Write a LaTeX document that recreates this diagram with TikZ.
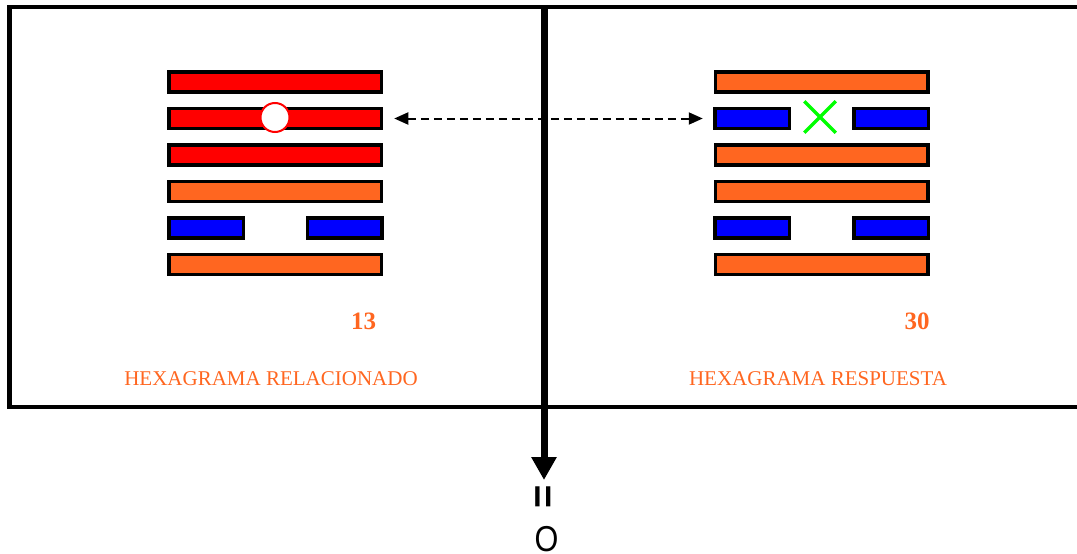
\documentclass[tikz,border=0pt]{standalone}
\usepackage{fontspec}
\setmainfont{Liberation Serif}
\newfontfamily\arialfont{Liberation Sans}
\usetikzlibrary{arrows.meta,shapes.misc}
\definecolor{hxred}{HTML}{FF0000}
\definecolor{hxorange}{HTML}{FF6620}
\definecolor{hxblue}{HTML}{0000FF}
\definecolor{hxgreen}{HTML}{00FF00}
\tikzset{
  bar/.style={draw=black, line width=3.5pt, minimum height=20pt, inner sep=0pt, outer sep=0pt},
  yang/.style={bar, minimum width=212.5pt},
  yin/.style={bar, minimum width=74.5pt, fill=hxblue},
  numlabel/.style={font=\fontsize{25}{25}\selectfont\bfseries, text=hxorange, anchor=base, inner sep=0pt},
  caption/.style={font=\fontsize{21}{21}\selectfont, text=hxorange, anchor=base, inner sep=0pt},
}
\begin{document}
\begin{tikzpicture}[x=1pt,y=-1pt]
\useasboundingbox (0,0) rectangle (1077,554);
% frame
\draw[line width=4.5pt] (1090,7) -- (9.5,7) -- (9.5,407) -- (1090,407);
% left hexagram (13)
\node[yang, fill=hxred] (l1) at (275,82) {};
\node[yang, fill=hxred] (l2) at (275,118.5) {};
\node[yang, fill=hxred] (l3) at (275,155) {};
\node[yang, fill=hxorange] (l4) at (275,191.5) {};
\node[yin] (l5a) at (206,228) {};
\node[yin] (l5b) at (344.5,228) {};
\node[yang, fill=hxorange] (l6) at (275,264.5) {};
\node[circle, draw=hxred, fill=white, line width=2pt, minimum size=29pt, inner sep=0pt] (mark) at (275,117.5) {};
% right hexagram (30)
\node[yang, fill=hxorange] (r1) at (821.5,82) {};
\node[yin] (r2a) at (752,118.5) {};
\node[yin] (r2b) at (891,118.5) {};
\node[yang, fill=hxorange] (r3) at (821.5,155) {};
\node[yang, fill=hxorange] (r4) at (821.5,191.5) {};
\node[yin] (r5a) at (752,228) {};
\node[yin] (r5b) at (891,228) {};
\node[yang, fill=hxorange] (r6) at (821.5,264.5) {};
\node[cross out, draw=hxgreen, line width=3.5pt, minimum size=28pt, inner sep=0pt] (xmark) at (820,117) {};
% dashed link
\draw[line width=2pt, dash pattern=on 8pt off 5pt, {Triangle[length=14pt,width=12pt]}-{Triangle[length=14pt,width=12pt]}, shorten <=13pt, shorten >=12pt] (l2.east) -- (r2a.west);
% labels
\node[numlabel] (n13) at (363.5,329) {13};
\node[numlabel] (n30) at (917,329) {30};
\node[caption] (capl) at (271,385) {HEXAGRAMA RELACIONADO};
\node[caption] (capr) at (818,385) {HEXAGRAMA RESPUESTA};
% vertical arrow
\coordinate (vtop) at (544,7);
\node[font=\arialfont\bfseries\fontsize{40}{40}\selectfont, rotate=90, inner sep=0pt] (eq) at (546,497) {=};
\node[font=\arialfont\fontsize{36}{36}\selectfont, inner sep=0pt, xscale=0.85] (oh) at (546.5,539.5) {O};
\draw[line width=7pt, -{Triangle[length=23pt,width=24pt]}] (vtop) -- (544,480);
\end{tikzpicture}
\end{document}
